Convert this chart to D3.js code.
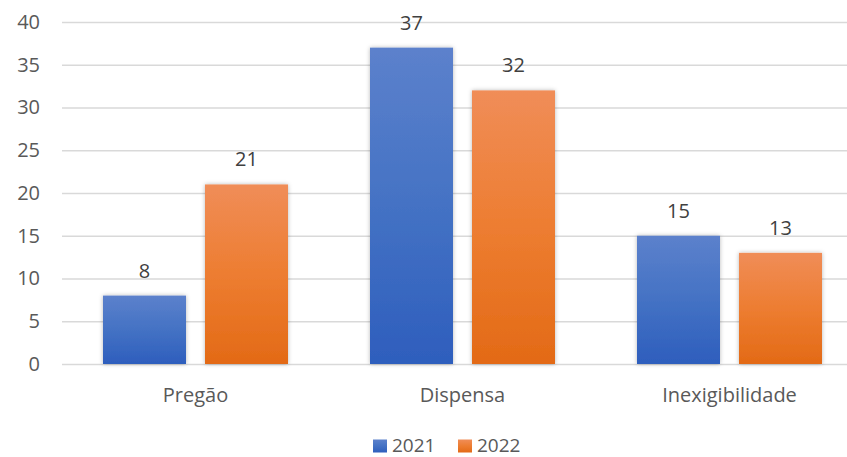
<!DOCTYPE html>
<html>
<head>
<meta charset="utf-8">
<script src="https://cdn.jsdelivr.net/npm/d3@7"></script>
<style>
  html, body { margin: 0; padding: 0; background: #fff; }
  svg { display: block; font-family: "Open Sans", Lato, "Liberation Sans", sans-serif; }
</style>
</head>
<body>
<svg id="chart" width="847" height="457"></svg>
<script>
const categories = ["Pregão", "Dispensa", "Inexigibilidade"];
const seriesNames = ["2021", "2022"];
const values2021 = [8, 37, 15];
const values2022 = [21, 32, 13];
const yTicks = [0, 5, 10, 15, 20, 25, 30, 35, 40];

const seriesValues = [values2021, values2022];
const colors = {
  "2021": { top: "#5c81cc", bottom: "#2e5ebd", flat: "#4472c4" },
  "2022": { top: "#f08d58", bottom: "#e36a16", flat: "#ed7d31" }
};
const FONT = "'Open Sans', Lato, 'Liberation Sans', sans-serif";

const svg = d3.select("#chart");

const y = d3.scaleLinear().domain([0, 40]).range([364, 22]);
const x0 = d3.scaleBand().domain(categories).range([62, 863]).padding(0);
const x1 = d3.scaleBand().domain(seriesNames).range([41, 226]).paddingInner(0.1863).paddingOuter(0);

const defs = svg.append("defs");
seriesNames.forEach((s, i) => {
  const g = defs.append("linearGradient")
    .attr("id", "grad" + i).attr("x1", 0).attr("y1", 0).attr("x2", 0).attr("y2", 1);
  g.append("stop").attr("offset", "0%").attr("stop-color", colors[s].top);
  g.append("stop").attr("offset", "50%").attr("stop-color", colors[s].flat);
  g.append("stop").attr("offset", "100%").attr("stop-color", colors[s].bottom);
});
const f = defs.append("filter").attr("id", "shadow")
  .attr("x", "-20%").attr("y", "-10%").attr("width", "140%").attr("height", "120%");
f.append("feDropShadow").attr("dx", 0).attr("dy", 0).attr("stdDeviation", 2.2)
  .attr("flood-color", "#000").attr("flood-opacity", 0.28);

// gridlines and value axis labels
const yAxis = d3.axisLeft(y).tickValues(yTicks).tickSize(-(863 - 62)).tickPadding(22);
const ga = svg.append("g").attr("transform", "translate(62,0)").call(yAxis);
ga.select(".domain").remove();
ga.selectAll(".tick line").attr("stroke", "#d9d9d9").attr("stroke-width", 1.5);
ga.selectAll(".tick text").attr("fill", "#595959").attr("font-size", 20)
  .attr("font-family", FONT);

// bars with value labels
const groups = svg.append("g").selectAll("g").data(categories).join("g")
  .attr("transform", d => `translate(${x0(d)},0)`);

seriesNames.forEach((s, si) => {
  groups.append("rect")
    .attr("x", x1(s))
    .attr("width", x1.bandwidth())
    .attr("y", (d, i) => y(seriesValues[si][i]))
    .attr("height", (d, i) => y(0) - y(seriesValues[si][i]))
    .attr("fill", `url(#grad${si})`)
    .attr("filter", "url(#shadow)");
  groups.append("text")
    .attr("x", x1(s) + x1.bandwidth() / 2)
    .attr("y", (d, i) => y(seriesValues[si][i]) - 18)
    .attr("text-anchor", "middle")
    .attr("fill", "#404040")
    .attr("font-size", 20)
    .text((d, i) => seriesValues[si][i]);
});

// category labels
const xAxis = d3.axisBottom(x0).tickSize(0).tickPadding(23.5);
const gx = svg.append("g").attr("transform", "translate(0,364)").call(xAxis);
gx.select(".domain").remove();
gx.selectAll(".tick text").attr("fill", "#595959").attr("font-size", 20)
  .attr("font-family", FONT);

// legend
const legend = svg.append("g").attr("transform", "translate(373,439.5)");
const legendX = [0, 85];
seriesNames.forEach((s, i) => {
  const lg = legend.append("g").attr("transform", `translate(${legendX[i]},0)`);
  lg.append("rect").attr("width", 14).attr("height", 13).attr("fill", `url(#grad${i})`);
  lg.append("text").attr("x", 19).attr("y", 12.5).attr("fill", "#595959")
    .attr("font-size", 19).text(s);
});
</script>
</body>
</html>
